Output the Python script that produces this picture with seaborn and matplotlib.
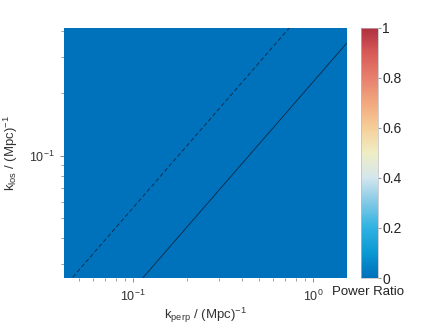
import numpy as np
import pandas as pd
import matplotlib
matplotlib.use("Agg")
import matplotlib.pyplot as plt
from matplotlib.colors import LinearSegmentedColormap
import seaborn as sns

# ---- data ----
kperp_edges = [0.0412, 0.1, 0.3, 1.0, 1.54]        # k_perp bin edges (Mpc^-1)
klos_edges = [0.0257, 0.05, 0.1, 0.2, 0.414]       # k_los bin edges (Mpc^-1)
power_ratio = [[0.0, 0.0, 0.0, 0.0],
               [0.0, 0.0, 0.0, 0.0],
               [0.0, 0.0, 0.0, 0.0],
               [0.0, 0.0, 0.0, 0.0]]
wedge_kperp = [0.0412, 1.54]
horizon_slope = 0.563   # dashed line
beam_slope = 0.228      # solid line
cbar_ticks = [0, 0.2, 0.4, 0.6, 0.8, 1]
cbar_ticklabels = ["0", "0.2", "0.4", "0.6", "0.8", "1"]

sns.set_style("white")
plt.rcParams['font.family'] = ['Liberation Sans', 'DejaVu Sans']
plt.rcParams['mathtext.fontset'] = 'custom'
plt.rcParams['mathtext.rm'] = 'Liberation Sans'
plt.rcParams['mathtext.it'] = 'Liberation Sans'
plt.rcParams['mathtext.bf'] = 'Liberation Sans'
plt.rcParams['font.size'] = 8.5

cmap = LinearSegmentedColormap.from_list(
    "pr", [(0.0, "#0071bb"), (0.1, "#0a98d4"), (0.2, "#30b2e2"), (0.3, "#80c8e6"),
           (0.4, "#d4e6ee"), (0.5, "#efedc4"), (0.6, "#f6cf98"), (0.7, "#f2a87e"),
           (0.8, "#e8806e"), (0.9, "#d85a58"), (1.0, "#b03040")])

fig = plt.figure(figsize=(4.36, 3.29), dpi=100)
ax = fig.add_axes([0.1468, 0.155, 0.6491, 0.760])
cax = fig.add_axes([0.827, 0.155, 0.040, 0.760])

mesh = ax.pcolormesh(kperp_edges, klos_edges, np.array(power_ratio),
                     cmap=cmap, vmin=0, vmax=1, shading='flat')
ax.set_xscale('log')
ax.set_yscale('log')

df = pd.DataFrame({
    "kperp": wedge_kperp + wedge_kperp,
    "klos": [horizon_slope * k for k in wedge_kperp] + [beam_slope * k for k in wedge_kperp],
    "line": ["horizon", "horizon", "beam", "beam"],
})
sns.lineplot(data=df[df.line == "horizon"], x="kperp", y="klos", ax=ax,
             color="#102840", lw=0.6, linestyle=(0, (5, 3)), legend=False)
sns.lineplot(data=df[df.line == "beam"], x="kperp", y="klos", ax=ax,
             color="#102840", lw=0.6, legend=False)

ax.set_xlim(kperp_edges[0], kperp_edges[-1])
ax.set_ylim(klos_edges[0], klos_edges[-1])
for s in ax.spines.values():
    s.set_visible(False)
ax.tick_params(which='both', direction='out', color='#777777', left=True, bottom=True,
               labelsize=9, labelcolor='#333333')
ax.tick_params(axis='x', pad=5)
ax.tick_params(which='major', length=3, width=0.6)
ax.tick_params(which='minor', length=2, width=0.5)
ax.set_xlabel(r'k$_{\rm perp}$ / (Mpc)$^{-1}$', fontsize=9.5, color='#333333', labelpad=1)
ax.set_ylabel(r'k$_{\rm los}$ / (Mpc)$^{-1}$', fontsize=9.5, color='#333333', labelpad=7)

cb = fig.colorbar(mesh, cax=cax, ticks=cbar_ticks)
cb.ax.set_yticklabels(cbar_ticklabels)
cb.outline.set_edgecolor('#bbbbbb')
cb.outline.set_linewidth(0.5)
cb.ax.tick_params(labelsize=10, length=2, color='#999999', labelcolor='#222222', pad=1)
fig.text(0.845, 0.112, "Power Ratio", ha='center', va='center', fontsize=9.5, color='#222222')

fig.savefig("out.png", dpi=100)
